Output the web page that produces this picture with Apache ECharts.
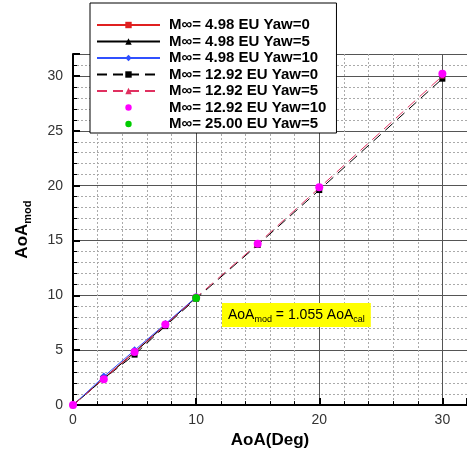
<!DOCTYPE html>
<html><head><meta charset="utf-8">
<script src="https://cdn.jsdelivr.net/npm/echarts@6/dist/echarts.min.js"></script>
<style>html,body{margin:0;padding:0;background:#fff}#c{width:467px;height:454px}</style>
</head><body><div id="c"></div>
<script>
const names = ["M\u221e= 4.98 EU Yaw=0","M\u221e= 4.98 EU Yaw=5","M\u221e= 4.98 EU Yaw=10","M\u221e= 12.92 EU Yaw=0","M\u221e= 12.92 EU Yaw=5","M\u221e= 12.92 EU Yaw=10","M\u221e= 25.00 EU Yaw=5"];
const xLow = [0, 2.5, 5, 7.5, 10];
const xAll = [0, 2.5, 5, 7.5, 10, 15, 20, 30];
const s1 = [0, 2.45, 4.85, 7.35, 9.8];
const s2 = [0, 2.4, 4.8, 7.3, 9.8];
const s3 = [0, 2.6, 5.0, 7.4, 9.85];
const s4 = [0, 2.4, 4.6, 7.2, 9.7, 14.6, 19.6, 29.75];
const s5 = [0, 2.4, 4.8, 7.3, 9.8, 14.7, 19.8, 30.0];
const x6 = [0, 2.5, 5, 7.5, 10, 15, 20, 30];
const s6 = [0, 2.35, 4.85, 7.35, 9.8, 14.7, 19.85, 30.2];
const x7 = [10];
const s7 = [9.75];
const xTicks = [0, 10, 20, 30];
const yTicks = [0, 5, 10, 15, 20, 25, 30];

const pair = (xs, ys) => xs.map((x, i) => [x, ys[i]]);
function ser(i, xs, ys, color, symbol, size, lineType, showLine, z) {
  return {
    name: names[i], type: 'line', data: pair(xs, ys), symbol: symbol, symbolSize: size,
    showSymbol: true, z: z,
    itemStyle: {color: color},
    lineStyle: showLine ? {color: color, width: 1, type: lineType} : {width: 0, opacity: 0},
    animation: false
  };
}
const chart = echarts.init(document.getElementById('c'), null, {renderer: 'canvas'});
const lab = {color: '#333', fontSize: 14, fontFamily: 'Liberation Sans, Arial'};
chart.setOption({
  backgroundColor: '#fff',
  animation: false,
  grid: {left: 73, top: 54, right: 0, bottom: 44},
  xAxis: {
    type: 'value', min: 0, max: 32, interval: 10,
    name: 'AoA(Deg)', nameLocation: 'middle', nameGap: 24,
    nameTextStyle: {fontSize: 17, fontWeight: 'bold', color: '#000', fontFamily: 'Liberation Sans, Arial'},
    axisLine: {lineStyle: {color: '#000', width: 2}},
    axisTick: {inside: true, length: 7, lineStyle: {color: '#000', width: 2}},
    minorTick: {show: true, splitNumber: 5, length: 4, lineStyle: {color: '#000', width: 1}},
    axisLabel: {...lab, showMaxLabel: false, margin: 8, formatter: v => xTicks.includes(v) ? String(v) : ''},
    splitLine: {show: true, lineStyle: {color: '#555', width: 1}},
    minorSplitLine: {show: true, lineStyle: {color: '#aaa', width: 1, type: [2, 2]}}
  },
  yAxis: {
    type: 'value', min: 0, max: 32, interval: 5,
    name: '{b|AoA}{s|mod}', nameLocation: 'middle', nameGap: 40,
    nameTextStyle: {rich: {
      b: {fontSize: 17, fontWeight: 'bold', color: '#000', fontFamily: 'Liberation Sans, Arial'},
      s: {fontSize: 11, fontWeight: 'bold', color: '#000', fontFamily: 'Liberation Sans, Arial', padding: [10, 0, 0, 0]}
    }},
    axisLine: {lineStyle: {color: '#000', width: 2}},
    axisTick: {inside: true, length: 7, lineStyle: {color: '#000', width: 2}},
    minorTick: {show: true, splitNumber: 5, length: 4, lineStyle: {color: '#000', width: 1}},
    axisLabel: {...lab, showMaxLabel: false, margin: 10, formatter: v => yTicks.includes(v) ? String(v) : ''},
    splitLine: {show: true, lineStyle: {color: '#555', width: 1}},
    minorSplitLine: {show: true, lineStyle: {color: '#aaa', width: 1, type: [2, 2]}}
  },
  legend: {
    orient: 'vertical', left: 90, top: 3,
    backgroundColor: '#fff', borderColor: '#000', borderWidth: 1,
    padding: [14, 10, 1, 6], itemGap: 0.5, itemWidth: 63, itemHeight: 8,
    textStyle: {fontSize: 15, lineHeight: 16, fontWeight: 'bold', color: '#000', fontFamily: 'Liberation Sans, Arial', padding: [0, 0, 0, 4]},
    data: names
  },
  graphic: [{
    type: 'text', left: 222, top: 303, z: 100,
    style: {
      text: '{a|AoA}{s|mod}{a| = 1.055 AoA}{s|cal}',
      backgroundColor: '#ffff00', padding: [3, 6, 3, 6],
      rich: {
        a: {fontSize: 14, color: '#000', fontFamily: 'Liberation Sans, Arial', lineHeight: 16},
        s: {fontSize: 9, color: '#000', fontFamily: 'Liberation Sans, Arial', padding: [9, 0, 0, 0]}
      }
    }
  }],
  series: [
    ser(0, xLow, s1, '#e02020', 'rect', 5, 'solid', true, 3),
    ser(1, xLow, s2, '#000000', 'triangle', 4, 'solid', true, 3),
    ser(2, xLow, s3, '#3050ff', 'diamond', 8, 'solid', true, 3),
    ser(3, xAll, s4, '#000000', 'rect', 6, [10, 6], true, 3),
    ser(4, xAll, s5, '#e03060', 'triangle', 5, [10, 6], true, 3),
    ser(5, x6, s6, '#ff00ff', 'circle', 8, 'solid', false, 4),
    ser(6, x7, s7, '#00cc00', 'circle', 8, 'solid', false, 5)
  ]
});
</script></body></html>
